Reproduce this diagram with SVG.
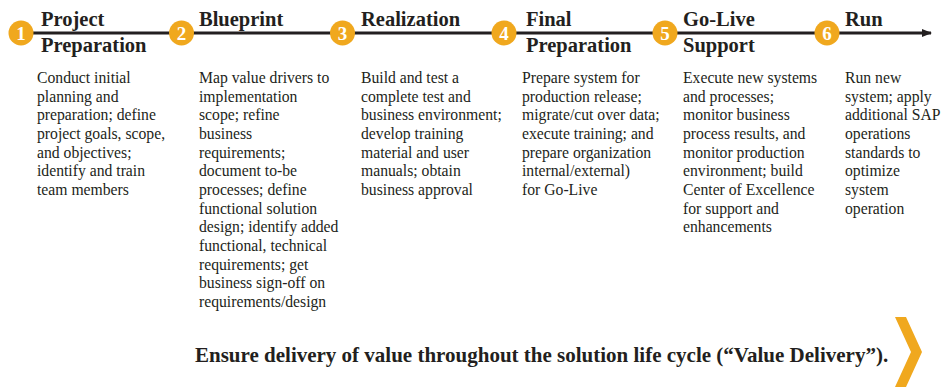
<svg xmlns="http://www.w3.org/2000/svg" width="951" height="387" viewBox="0 0 951 387">
<style>
.t{font-family:'Liberation Serif',serif;font-weight:bold;font-size:20.5px;fill:#231f20}
.b{font-family:'Liberation Serif',serif;font-size:15.7px;fill:#231f20}
.n{font-family:'Liberation Serif',serif;font-weight:bold;font-size:19px;fill:#fff;text-anchor:middle}
.v{font-family:'Liberation Serif',serif;font-weight:bold;font-size:21px;fill:#231f20}
.c{fill:#f0a81e}
</style>
<defs>
<marker id="ah" markerWidth="10" markerHeight="8" refX="9" refY="4" orient="auto" markerUnits="userSpaceOnUse">
<path d="M0,0 L10,4 L0,8 Z" fill="#231f20"/>
</marker>
</defs>
<g id="connectors">
<line x1="22" y1="33" x2="931" y2="33" stroke="#231f20" stroke-width="3" marker-end="url(#ah)"/>
</g>
<g id="step1">
<circle class="c" cx="21" cy="33" r="12.5"/>
<text class="n" x="21" y="40">1</text>
<text class="t" x="41" y="26">Project</text>
<text class="t" x="41" y="52">Preparation</text>
<text class="b" x="37" y="83"><tspan x="37">Conduct initial</tspan><tspan x="37" dy="18.67">planning and</tspan><tspan x="37" dy="18.67">preparation; define</tspan><tspan x="37" dy="18.67">project goals, scope,</tspan><tspan x="37" dy="18.67">and objectives;</tspan><tspan x="37" dy="18.67">identify and train</tspan><tspan x="37" dy="18.67">team members</tspan></text>
</g>
<g id="step2">
<circle class="c" cx="181.5" cy="33" r="12.5"/>
<text class="n" x="181.5" y="40">2</text>
<text class="t" x="199" y="26">Blueprint</text>
<text class="b" x="199" y="83"><tspan x="199">Map value drivers to</tspan><tspan x="199" dy="18.67">implementation</tspan><tspan x="199" dy="18.67">scope; refine</tspan><tspan x="199" dy="18.67">business</tspan><tspan x="199" dy="18.67">requirements;</tspan><tspan x="199" dy="18.67">document to-be</tspan><tspan x="199" dy="18.67">processes; define</tspan><tspan x="199" dy="18.67">functional solution</tspan><tspan x="199" dy="18.67">design; identify added</tspan><tspan x="199" dy="18.67">functional, technical</tspan><tspan x="199" dy="18.67">requirements; get</tspan><tspan x="199" dy="18.67">business sign-off on</tspan><tspan x="199" dy="18.67">requirements/design</tspan></text>
</g>
<g id="step3">
<circle class="c" cx="342.5" cy="33" r="12.5"/>
<text class="n" x="342.5" y="40">3</text>
<text class="t" x="361" y="26">Realization</text>
<text class="b" x="361" y="83"><tspan x="361">Build and test a</tspan><tspan x="361" dy="18.67">complete test and</tspan><tspan x="361" dy="18.67">business environment;</tspan><tspan x="361" dy="18.67">develop  training</tspan><tspan x="361" dy="18.67">material and user</tspan><tspan x="361" dy="18.67">manuals; obtain</tspan><tspan x="361" dy="18.67">business approval</tspan></text>
</g>
<g id="step4">
<circle class="c" cx="504" cy="33" r="12.5"/>
<text class="n" x="504" y="40">4</text>
<text class="t" x="526" y="26">Final</text>
<text class="t" x="526" y="52">Preparation</text>
<text class="b" x="522" y="83"><tspan x="522">Prepare system for</tspan><tspan x="522" dy="18.67">production release;</tspan><tspan x="522" dy="18.67">migrate/cut over data;</tspan><tspan x="522" dy="18.67">execute training; and</tspan><tspan x="522" dy="18.67">prepare organization</tspan><tspan x="522" dy="18.67">internal/external)</tspan><tspan x="522" dy="18.67">for Go-Live</tspan></text>
</g>
<g id="step5">
<circle class="c" cx="665" cy="33" r="12.5"/>
<text class="n" x="665" y="40">5</text>
<text class="t" x="683" y="26">Go-Live</text>
<text class="t" x="683" y="52">Support</text>
<text class="b" x="683" y="83"><tspan x="683">Execute new systems</tspan><tspan x="683" dy="18.67">and processes;</tspan><tspan x="683" dy="18.67">monitor business</tspan><tspan x="683" dy="18.67">process results, and</tspan><tspan x="683" dy="18.67">monitor production</tspan><tspan x="683" dy="18.67">environment; build</tspan><tspan x="683" dy="18.67">Center of Excellence</tspan><tspan x="683" dy="18.67">for support and</tspan><tspan x="683" dy="18.67">enhancements</tspan></text>
</g>
<g id="step6">
<circle class="c" cx="827" cy="33" r="12.5"/>
<text class="n" x="827" y="40">6</text>
<text class="t" x="845" y="26">Run</text>
<text class="b" x="845" y="83"><tspan x="845">Run new</tspan><tspan x="845" dy="18.67">system; apply</tspan><tspan x="845" dy="18.67">additional SAP</tspan><tspan x="845" dy="18.67">operations</tspan><tspan x="845" dy="18.67">standards to</tspan><tspan x="845" dy="18.67">optimize</tspan><tspan x="845" dy="18.67">system</tspan><tspan x="845" dy="18.67">operation</tspan></text>
</g>
<g id="value-delivery">
<text class="v" x="195" y="362">Ensure delivery of value throughout the solution life cycle (“Value Delivery”).</text>
<polygon class="c" points="895,317 906,317 922,352 906,387 895,387 911,352"/>
</g>
</svg>
